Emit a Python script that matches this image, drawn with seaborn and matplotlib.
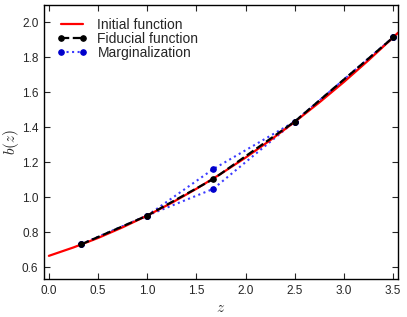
import matplotlib
matplotlib.use("Agg")
import matplotlib.pyplot as plt
import seaborn as sns
import pandas as pd

# Initial function b(z)
z_init = [0.0, 0.25, 0.5, 0.75, 1.0, 1.25, 1.5, 1.75, 2.0, 2.25, 2.5, 2.75, 3.0, 3.25, 3.5, 3.55]
b_init = [0.665, 0.713, 0.767, 0.828, 0.895, 0.968, 1.048, 1.134, 1.226, 1.325, 1.430, 1.541, 1.658, 1.782, 1.912, 1.939]

# Fiducial nodes
z_nodes = [0.33, 1.0, 1.67, 2.5, 3.5]
b_fid = [0.731, 0.895, 1.103, 1.432, 1.912]

# Marginalization: middle node shifted up / down
b_marg_up = [0.731, 0.895, 1.160, 1.432, 1.912]
b_marg_down = [0.731, 0.895, 1.047, 1.432, 1.912]

sns.set_style("ticks")
plt.rcParams["font.family"] = ["Liberation Sans", "DejaVu Sans"]
plt.rcParams["mathtext.fontset"] = "cm"

fig = plt.figure(figsize=(4.07, 3.17), dpi=100)
ax = fig.add_axes([0.108, 0.12, 0.87, 0.864])

df_init = pd.DataFrame({"z": z_init, "b": b_init})
df_fid = pd.DataFrame({"z": z_nodes, "b": b_fid})
df_up = pd.DataFrame({"z": z_nodes, "b": b_marg_up})
df_down = pd.DataFrame({"z": z_nodes, "b": b_marg_down})

sns.lineplot(data=df_init, x="z", y="b", ax=ax, color="red", lw=1.6,
             label="Initial function", sort=False, estimator=None, zorder=2)
sns.lineplot(data=df_fid, x="z", y="b", ax=ax, color="black", lw=1.6,
             linestyle="--", marker="o", markersize=4, markeredgecolor="black",
             label="Fiducial function", sort=False, estimator=None, zorder=3)
sns.lineplot(data=df_up, x="z", y="b", ax=ax, color="#0000ff", lw=1.5,
             linestyle=":", marker="o", markersize=4, markeredgecolor="#0000cc",
             label="Marginalization", sort=False, estimator=None, zorder=1)
sns.lineplot(data=df_down, x="z", y="b", ax=ax, color="#0000ff", lw=1.5,
             linestyle=":", marker="o", markersize=4, markeredgecolor="#0000cc",
             sort=False, estimator=None, zorder=1)
for ln in ax.lines[2:]:
    ln.set_color("#3c3cff")
    ln.set_markerfacecolor("#0000cc")
    ln.set_markeredgecolor("#0000cc")

ax.set_xlim(-0.05, 3.55)
ax.set_ylim(0.533, 2.097)
ax.set_xticks([0.0, 0.5, 1.0, 1.5, 2.0, 2.5, 3.0, 3.5])
ax.set_yticks([0.6, 0.8, 1.0, 1.2, 1.4, 1.6, 1.8, 2.0])
ax.tick_params(top=True, right=True, direction="in", length=4, width=0.8,
               labelsize=8.5, pad=4)
for s in ax.spines.values():
    s.set_visible(True)
    s.set_linewidth(1.0)
    s.set_color("black")

ax.set_xlabel("$z$", fontsize=11, labelpad=3)
ax.set_ylabel("$b(z)$", fontsize=11, labelpad=1)

ax.legend(loc="upper left", frameon=False, numpoints=2, fontsize=10,
          handlelength=2.2, labelspacing=0.0, borderaxespad=0.5,
          handletextpad=0.75)

fig.savefig("out.png", dpi=100)
